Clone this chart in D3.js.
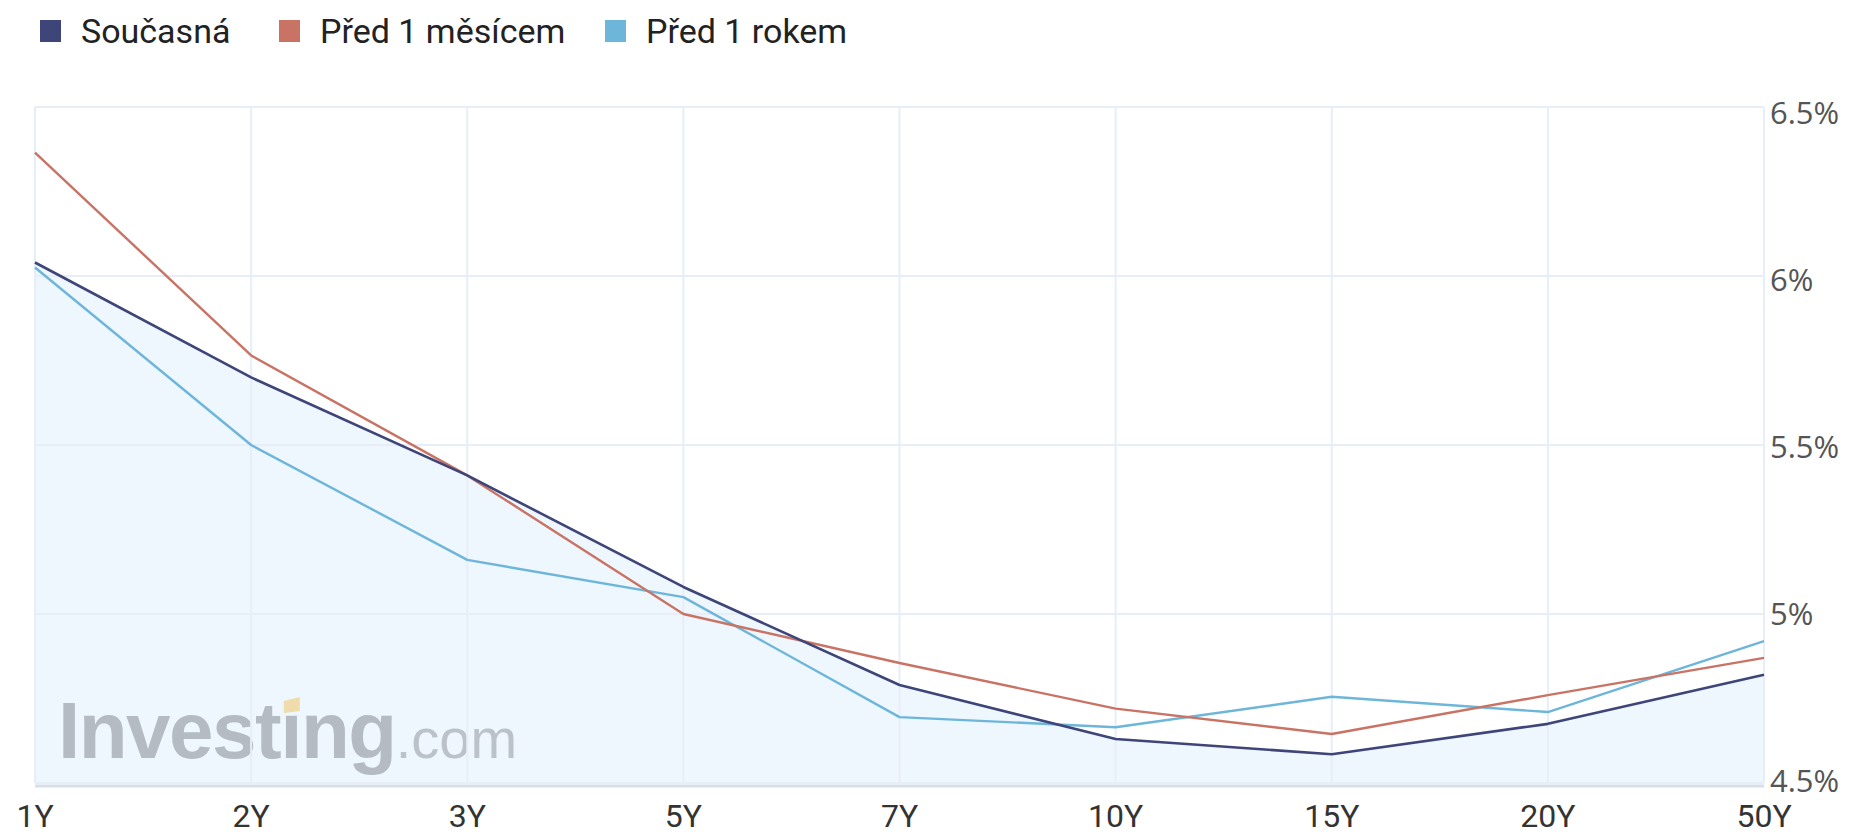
<!DOCTYPE html>
<html>
<head>
<meta charset="utf-8">
<script src="https://cdn.jsdelivr.net/npm/d3@7"></script>
<style>
  html, body { margin: 0; padding: 0; background: #fff; }
  svg { display: block; }
</style>
</head>
<body>
<div id="chart"></div>
<script>
// maturities on the x axis
const categories = ["1Y", "2Y", "3Y", "5Y", "7Y", "10Y", "15Y", "20Y", "50Y"]
// yields in %
const current = [6.04, 5.70, 5.41, 5.08, 4.79, 4.63, 4.585, 4.675, 4.82]
const monthAgo = [6.365, 5.765, 5.41, 5.00, 4.855, 4.72, 4.645, 4.76, 4.87]
const yearAgo = [6.025, 5.50, 5.16, 5.05, 4.695, 4.665, 4.755, 4.71, 4.92]
const yTicks = [4.5, 5, 5.5, 6, 6.5]
const seriesNames = ["Současná", "Před 1 měsícem", "Před 1 rokem"]
const seriesColors = ["#3e4578", "#c87364", "#6db6da"]

const width = 1853
const height = 834
const plot = { left: 35, right: 1764, top: 107, bottom: 783 }
const legendX = [40, 279, 605]

const svg = d3.select("#chart").append("svg")
    .attr("width", width)
    .attr("height", height)

const x = d3.scalePoint()
    .domain(categories)
    .range([plot.left, plot.right])

const y = d3.scaleLinear()
    .domain([4.5, 6.5])
    .range([plot.bottom, plot.top])

// tick labels sit slightly inside the range, not exactly on the gridline
const yLabel = d3.scaleLinear()
    .domain([4.5, 6.5])
    .range([780, 112])

// area under the current curve
svg.append("path")
    .datum(current)
    .attr("fill", "#eef6fe")
    .attr("d", d3.area()
        .x((d, i) => x(categories[i]))
        .y0(plot.bottom + 1)
        .y1(d => y(d)))

// watermark
const wm = svg.append("g").attr("class", "watermark")
const wmText = wm.append("text")
    .attr("x", 58)
    .attr("y", 758)
    .attr("font-family", "Liberation Sans, Arial, sans-serif")
    .attr("fill", "#b4bbc3")
wmText.append("tspan")
    .attr("font-size", 80)
    .attr("font-weight", "bold")
    .attr("letter-spacing", -1.5)
    .text("Investıng")
wmText.append("tspan")
    .attr("font-size", 56)
    .attr("font-weight", "normal")
    .attr("fill", "#bcc2c9")
    .text(".com")
// yellow dot on the i
const iBox = wmText.node().getExtentOfChar(6)
const cx = iBox.x + (iBox.width - 1.5) / 2 + 2
wm.append("path")
    .attr("fill", "#efdcaa")
    .attr("d", `M${cx - 8},${701} L${cx + 8},${697} L${cx + 8},${711} L${cx - 8},${713} Z`)

// grid
const grid = svg.append("g").attr("class", "grid")
grid.selectAll("line.h")
    .data(yTicks)
    .enter()
    .append("line")
    .attr("class", "h")
    .attr("x1", plot.left)
    .attr("x2", plot.right)
    .attr("y1", d => y(d))
    .attr("y2", d => y(d))
    .attr("stroke", "#e7eef8")
    .attr("stroke-width", 2)
grid.selectAll("line.v")
    .data(categories)
    .enter()
    .append("line")
    .attr("class", "v")
    .attr("x1", d => x(d))
    .attr("x2", d => x(d))
    .attr("y1", plot.top)
    .attr("y2", plot.bottom)
    .attr("stroke", "#e7eef8")
    .attr("stroke-width", 2)

// bottom axis line
svg.append("line")
    .attr("x1", plot.left)
    .attr("x2", plot.right)
    .attr("y1", plot.bottom + 3)
    .attr("y2", plot.bottom + 3)
    .attr("stroke", "#d6e0ec")
    .attr("stroke-width", 3)

// series lines
const line = d3.line()
    .x((d, i) => x(categories[i]))
    .y(d => y(d))

const allSeries = [current, monthAgo, yearAgo]
// draw year-ago first, current on top
const drawOrder = [2, 1, 0]
svg.append("g")
    .selectAll("path")
    .data(drawOrder)
    .enter()
    .append("path")
    .attr("fill", "none")
    .attr("stroke", d => seriesColors[d])
    .attr("stroke-width", d => d === 0 ? 2.6 : 2.4)
    .attr("stroke-linejoin", "round")
    .attr("d", d => line(allSeries[d]))

// y labels on the right
svg.append("g")
    .selectAll("text")
    .data(yTicks)
    .enter()
    .append("text")
    .attr("x", 1770)
    .attr("y", d => yLabel(d))
    .attr("dominant-baseline", "central")
    .attr("font-family", "Open Sans, sans-serif")
    .attr("font-size", 31)
    .attr("fill", "#555")
    .text(d => d3.format("~g")(d) + "%")

// x labels
svg.append("g")
    .selectAll("text")
    .data(categories)
    .enter()
    .append("text")
    .attr("x", d => x(d))
    .attr("y", 827)
    .attr("text-anchor", "middle")
    .attr("font-family", "Roboto, sans-serif")
    .attr("font-size", 32)
    .attr("fill", "#333")
    .text(d => d)

// legend
const legend = svg.append("g").attr("class", "legend")
seriesNames.forEach((name, i) => {
    legend.append("rect")
        .attr("x", legendX[i])
        .attr("y", 20)
        .attr("width", 21)
        .attr("height", 22)
        .attr("fill", seriesColors[i])
    legend.append("text")
        .attr("x", legendX[i] + 41)
        .attr("y", 43)
        .attr("font-family", "Roboto, sans-serif")
        .attr("font-size", 34)
        .attr("fill", "#222")
        .text(name)
})
</script>
</body>
</html>
